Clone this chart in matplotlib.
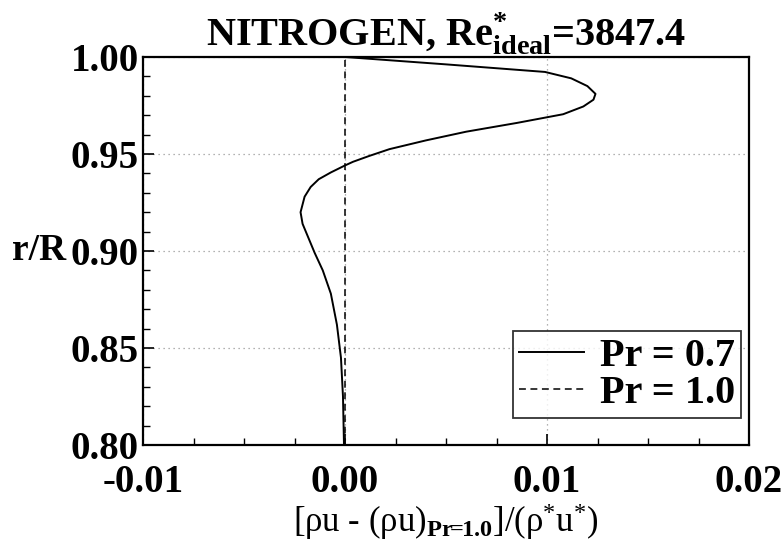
import matplotlib
matplotlib.use("Agg")
import matplotlib.pyplot as plt
from matplotlib.ticker import MultipleLocator

plt.rcParams['font.family'] = ['Liberation Serif', 'DejaVu Serif']
plt.rcParams['mathtext.fontset'] = 'custom'
plt.rcParams['mathtext.rm'] = 'Liberation Serif'
plt.rcParams['mathtext.it'] = 'Liberation Serif:italic'
plt.rcParams['mathtext.bf'] = 'Liberation Serif:bold'

# Pr = 0.7 profile
x_pr07 = [0.0, 0.0050, 0.0099, 0.0112, 0.0120, 0.0124, 0.0123, 0.0118, 0.0108,
          0.0085, 0.0060, 0.0040, 0.0022, 0.0012, 0.0004, 0.0, -0.0007, -0.0013,
          -0.0017, -0.0020, -0.0021, -0.0022, -0.0021, -0.0019, -0.0015, -0.0011,
          -0.0007, -0.0004, -0.0002, -0.0001, -0.00005]
y_pr07 = [1.000, 0.9962, 0.9923, 0.9890, 0.9850, 0.9810, 0.9780, 0.9745, 0.9705,
          0.9660, 0.9615, 0.9570, 0.9525, 0.9490, 0.9460, 0.9441, 0.9405, 0.9370,
          0.9330, 0.9280, 0.9240, 0.9200, 0.9140, 0.9090, 0.8990, 0.8900,
          0.8780, 0.8620, 0.8450, 0.8250, 0.8000]
# Pr = 1.0 reference
x_pr10 = [0.0, 0.0]
y_pr10 = [0.80, 1.00]

xticks = [-0.01, 0.00, 0.01, 0.02]
xtick_labels = ['-0.01', '0.00', '0.01', '0.02']
yticks = [0.80, 0.85, 0.90, 0.95, 1.00]
ytick_labels = ['0.80', '0.85', '0.90', '0.95', '1.00']

W, H = 783, 542
fig = plt.figure(figsize=(W / 100, H / 100), dpi=100)
ax = fig.add_axes([143 / W, 1 - 445 / H, 606 / W, 388 / H])

ax.plot(x_pr07, y_pr07, color='black', lw=1.4, label='Pr = 0.7')
ax.plot(x_pr10, y_pr10, color='black', lw=1.1, ls=(0, (4.5, 3)), label='Pr = 1.0')

ax.set_xlim(-0.01, 0.02)
ax.set_ylim(0.80, 1.00)
ax.set_xticks(xticks)
ax.set_xticklabels(xtick_labels)
ax.set_yticks(yticks)
ax.set_yticklabels(ytick_labels)
ax.xaxis.set_minor_locator(MultipleLocator(0.0025))
ax.yaxis.set_minor_locator(MultipleLocator(0.01))
ax.tick_params(which='both', direction='in', top=False, right=False)
ax.tick_params(which='major', length=8, width=1.2)
ax.tick_params(which='minor', length=5, width=1.0)
ax.tick_params(axis='y', which='major', labelsize=28, pad=3)
ax.tick_params(axis='x', which='major', labelsize=28, pad=14)
for lab in ax.get_xticklabels() + ax.get_yticklabels():
    lab.set_fontweight('bold')
for sp in ax.spines.values():
    sp.set_linewidth(1.6)

ax.grid(True, which='major', color='#999999', ls=(0, (1, 3)), lw=0.9)

ax.set_title(r'NITROGEN, Re$^{\mathbf{*}}_{\mathbf{ideal}}$=3847.4',
             fontsize=29, fontweight='bold', pad=4)
ax.set_xlabel(r'[ρu - (ρu)$_{\mathbf{Pr}\!\!\mathbf{=}\!\!\mathbf{1.0}}$]/(ρ$^{*}$u$^{*}$)',
              fontsize=25, labelpad=0)
fig.text(12 / W, 1 - 250 / H, 'r/R', fontsize=27, fontweight='bold',
         va='center', ha='left')

leg = ax.legend(loc='lower right', bbox_to_anchor=(0.987, 0.07),
                frameon=True, fancybox=False, edgecolor='black',
                handlelength=1.6, handletextpad=0.4,
                borderpad=0.15, labelspacing=0.0, borderaxespad=0.0,
                prop={'weight': 'bold', 'size': 29})
leg.get_frame().set_linewidth(1.3)

fig.savefig('out.png', dpi=100)
